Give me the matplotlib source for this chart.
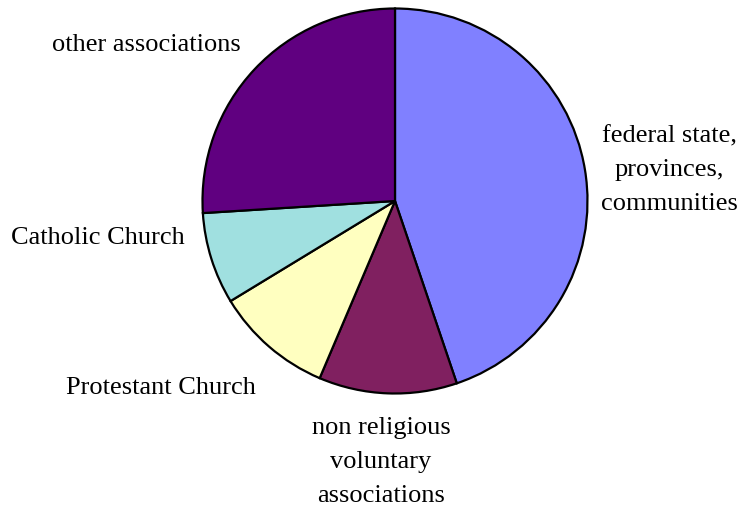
import matplotlib
matplotlib.use("Agg")
import matplotlib.pyplot as plt

# Funding shares by provider (percent), clockwise from 12 o'clock
categories = [
    "federal state,\nprovinces,\ncommunities",
    "non religious\nvoluntary\nassociations",
    "Protestant Church",
    "Catholic Church",
    "other associations",
]
shares = [44.8, 11.6, 9.9, 7.7, 26.0]
colors = ["#8080FF", "#802060", "#FFFFC0", "#A0E0E0", "#600080"]

fig = plt.figure(figsize=(7.4, 5.08), dpi=100)
ax = fig.add_axes([0, 0, 1, 1])

ax.pie(
    shares,
    colors=colors,
    startangle=90,
    counterclock=False,
    center=(395, 307),
    radius=192.5,
    wedgeprops=dict(edgecolor="black", linewidth=1.6),
    frame=True,
)
ax.set_xlim(0, 740)
ax.set_ylim(0, 508)
ax.set_aspect("equal")
ax.axis("off")

font = dict(family="Liberation Serif", fontsize=19, color="black",
            ha="center", va="center", linespacing=1.68)
label_pos = [(669, 338), (381, 46), (161, 120), (98, 270), (146, 463)]
for text, (x, y) in zip(categories, label_pos):
    ax.text(x, y, text, **font)

fig.savefig("out.png", dpi=100)
